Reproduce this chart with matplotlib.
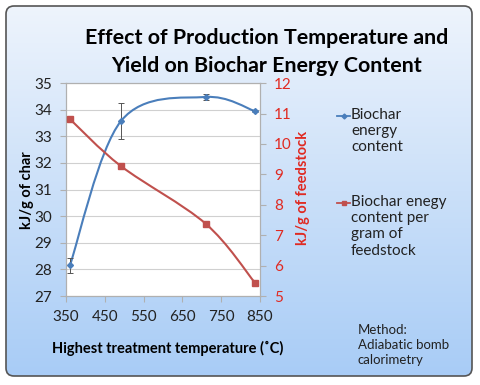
import numpy as np
import matplotlib
matplotlib.use('Agg')
import matplotlib.pyplot as plt
from matplotlib.patches import FancyBboxPatch, PathPatch
from matplotlib.path import Path

temps = [360, 492, 710, 837]
char_energy = [28.15, 33.58, 34.48, 33.95]
char_err = [0.27, 0.68, 0.10, 0.04]
feed_energy = [10.82, 9.27, 7.38, 5.44]

BLUE = '#4a7ebb'
RED = '#c0504d'
RED_TXT = '#e02a22'
FONT = 'Lato'


def smooth_path(x, y, k=1 / 6):
    # Excel-style smoothed line: cubic Bezier segments with Catmull-Rom tangents
    pts = np.column_stack([x, y]).astype(float)
    n = len(pts)
    verts = [pts[0]]
    codes = [Path.MOVETO]
    for i in range(n - 1):
        p0 = pts[max(i - 1, 0)]
        p1 = pts[i]
        p2 = pts[i + 1]
        p3 = pts[min(i + 2, n - 1)]
        c1 = p1 + (p2 - p0) * k
        c2 = p2 - (p3 - p1) * k
        verts += [c1, c2, p2]
        codes += [Path.CURVE4] * 3
    return Path(verts, codes)


fig = plt.figure(figsize=(4.8, 3.85), dpi=100)

# gradient background in a rounded box
bg = fig.add_axes([0, 0, 1, 1], zorder=-5)
bg.set_xlim(0, 480)
bg.set_ylim(385, 0)
bg.axis('off')
grad = np.linspace(0, 1, 256).reshape(-1, 1)
cmap = matplotlib.colors.LinearSegmentedColormap.from_list('bg', ['#eef4fc', '#a8ccf6'])
im = bg.imshow(grad, cmap=cmap, extent=[5, 473, 377, 5], aspect='auto')
box = FancyBboxPatch((6, 6), 466, 370, boxstyle='round,pad=0,rounding_size=8',
                     facecolor='none', edgecolor='#555555', linewidth=1.2)
bg.add_patch(box)
im.set_clip_path(box)

ax = fig.add_axes([0.1375, 0.231, 0.404, 0.553])
ax.set_facecolor('white')
ax.set_xlim(350, 850)
ax.set_ylim(27, 35)
ax.set_xticks(range(350, 851, 100))
ax.set_yticks(range(27, 36))
ax.grid(axis='y', color='#d0d0d0', linewidth=0.8)
ax.set_axisbelow(True)
for s in ax.spines.values():
    s.set_color('#b0b0b0')
ax.tick_params(colors='#b0b0b0', labelcolor='#222222', labelsize=11, length=4,
               width=0.8, pad=6)
for lbl in ax.get_xticklabels() + ax.get_yticklabels():
    lbl.set_family(FONT)

ax2 = ax.twinx()
ax2.set_ylim(5, 12)
ax2.set_yticks(range(5, 13))
for s in ax2.spines.values():
    s.set_color('#b0b0b0')
ax2.tick_params(colors='#b0b0b0', labelcolor=RED_TXT, labelsize=11, length=4,
                width=0.8, pad=6)
for lbl in ax2.get_yticklabels():
    lbl.set_family(FONT)

ax.add_patch(PathPatch(smooth_path(temps, char_energy), facecolor='none',
                       edgecolor=BLUE, linewidth=1.5, zorder=3))
ax.errorbar(temps, char_energy, yerr=char_err, fmt='none', ecolor='#555555',
            elinewidth=0.7, capsize=2, capthick=0.7, zorder=4)
ax.plot(temps, char_energy, linestyle='none', marker='D', markersize=3,
        color=BLUE, zorder=5)

ax2.add_patch(PathPatch(smooth_path(temps, feed_energy), facecolor='none',
                        edgecolor=RED, linewidth=1.5, zorder=3))
ax2.plot(temps, feed_energy, linestyle='none', marker='s', markersize=4.5,
         color=RED, zorder=5)

fig.text(27 / 480, 1 - 190 / 385, 'kJ/g of char', rotation=90, ha='center',
         va='center', fontsize=10.5, fontweight='bold', family=FONT)
fig.text(302.5 / 480, 1 - 188 / 385, 'kJ/g of feedstock', rotation=90, ha='center',
         va='center', fontsize=10.5, fontweight='bold', family=FONT, color=RED_TXT)

fig.text(168 / 480, 1 - 348 / 385, 'Highest treatment temperature (˚C)', ha='center',
         va='center', fontsize=10.5, fontweight='bold', family=FONT)
fig.text(267 / 480, 1 - 52 / 385,
         'Effect of Production Temperature and\nYield on Biochar Energy Content',
         ha='center', va='center', fontsize=15.4, fontweight='bold', family=FONT,
         linespacing=1.5)

# legend drawn by hand to match the layout
bg.plot([337, 350], [116, 116], color=BLUE, linewidth=1.3)
bg.plot([343.5], [116], marker='D', markersize=2.5, color=BLUE)
bg.text(351, 108, 'Biochar\nenergy\ncontent', ha='left', va='top',
        fontsize=11, family=FONT, linespacing=1.2, color='#222222')
bg.plot([337, 350], [203, 203], color=RED, linewidth=1.3)
bg.plot([343.5], [203], marker='s', markersize=3.5, color=RED)
bg.text(351, 195, 'Biochar enegy\ncontent per\ngram of\nfeedstock', ha='left', va='top',
        fontsize=11, family=FONT, linespacing=1.2, color='#222222')
bg.text(358, 324, 'Method:\nAdiabatic bomb\ncalorimetry', ha='left', va='top',
        fontsize=9.5, family=FONT, linespacing=1.3, color='#222222')

fig.savefig('out.png', dpi=100)
